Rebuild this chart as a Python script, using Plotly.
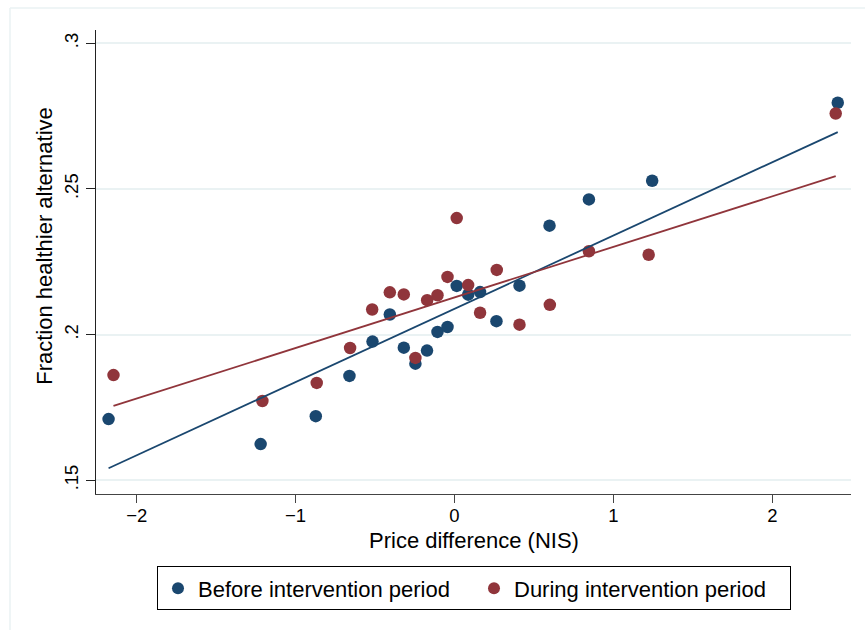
import numpy as np
import plotly.graph_objects as go

# ---- data ----
before_x = [-2.177, -1.220, -0.873, -0.661, -0.516, -0.407, -0.319, -0.246, -0.173, -0.107,
            -0.044, 0.014, 0.086, 0.161, 0.264, 0.409, 0.598, 0.846, 1.244, 2.412]
before_y = [0.1710, 0.1624, 0.1720, 0.1858, 0.1976, 0.2069, 0.1955, 0.1900, 0.1945, 0.2009,
            0.2026, 0.2167, 0.2137, 0.2146, 0.2046, 0.2168, 0.2374, 0.2464, 0.2528, 0.2796]
during_x = [-2.146, -1.209, -0.867, -0.657, -0.518, -0.407, -0.319, -0.246, -0.172, -0.107,
            -0.044, 0.014, 0.086, 0.161, 0.266, 0.409, 0.600, 0.846, 1.222, 2.399]
during_y = [0.1861, 0.1772, 0.1834, 0.1954, 0.2086, 0.2145, 0.2138, 0.1920, 0.2118, 0.2135,
            0.2198, 0.2400, 0.2170, 0.2075, 0.2222, 0.2034, 0.2102, 0.2286, 0.2274, 0.2759]
# linear fit lines as shown in the reference: [intercept, slope]
before_fit = [0.20885, 0.025147]
during_fit = [0.21275, 0.017360]
series_names = ["Before intervention period", "During intervention period"]
x_tickvals = [-2, -1, 0, 1, 2]
y_tickvals = [0.15, 0.20, 0.25, 0.30]
y_ticktext = [".15", ".2", ".25", ".3"]
x_title = "Price difference (NIS)"
y_title = "Fraction healthier alternative"

NAVY = "#1a476f"
MAROON = "#90353b"
GRID = "#eaf2f3"
FONT = "Liberation Sans, Arial, Helvetica, sans-serif"

W, H = 865, 630
L, R, T, B = 96, 14, 30, 135.5
PW, PH = W - L - R, H - T - B


def px2paper_x(px):
    return (px - L) / PW


def px2paper_y(py):
    return (H - B - py) / PH


fig = go.Figure()

for xs, ys, name, col in [(before_x, before_y, series_names[0], NAVY),
                          (during_x, during_y, series_names[1], MAROON)]:
    fig.add_trace(go.Scatter(x=xs, y=ys, mode="markers", name=name,
                             marker=dict(color=col, size=12.5, line=dict(width=0))))

for xs, fit, col in [(before_x, before_fit, NAVY), (during_x, during_fit, MAROON)]:
    a, b = fit
    lx = np.array([min(xs), max(xs)])
    fig.add_trace(go.Scatter(x=lx, y=a + b * lx, mode="lines", showlegend=False,
                             line=dict(color=col, width=1.8), hoverinfo="skip"))

fig.update_layout(
    width=W, height=H,
    margin=dict(l=L, r=R, t=T, b=B),
    paper_bgcolor="white", plot_bgcolor="white",
    font=dict(family=FONT, color="black"),
    showlegend=True,
    legend=dict(orientation="h", x=px2paper_x(157), y=px2paper_y(567),
                xanchor="left", yanchor="top",
                bordercolor="black", borderwidth=1, bgcolor="white",
                font=dict(size=22, family=FONT), entrywidth=271,
                itemsizing="constant"),
    xaxis=dict(range=[-2.2561, 2.4953], tickvals=x_tickvals,
               showgrid=False, zeroline=False,
               showline=True, linecolor="#444", linewidth=1.3,
               ticks="outside", ticklen=8, tickwidth=1.2, tickcolor="#444",
               ticklabelstandoff=-3,
               tickfont=dict(size=18.5, family=FONT)),
    yaxis=dict(range=[0.14527, 0.30456], tickvals=y_tickvals, ticktext=y_ticktext,
               showgrid=True, gridcolor=GRID, gridwidth=1.5, zeroline=False,
               showline=True, linecolor="#222", linewidth=1.3,
               ticks="outside", ticklen=9, tickwidth=1.2, tickcolor="#222",
               tickangle=-90, tickfont=dict(size=18.5, family=FONT)),
    annotations=[
        dict(text=x_title, xref="paper", yref="paper",
             x=px2paper_x(473.5), y=px2paper_y(541), xanchor="center", yanchor="middle",
             showarrow=False, font=dict(size=22, family=FONT)),
        dict(text=y_title, xref="paper", yref="paper", textangle=-90,
             x=px2paper_x(45), y=px2paper_y(246), xanchor="center", yanchor="middle",
             showarrow=False, font=dict(size=22, family=FONT)),
    ],
    shapes=[
        dict(type="line", xref="paper", yref="paper",
             x0=px2paper_x(10), x1=px2paper_x(10), y0=px2paper_y(8), y1=px2paper_y(640),
             line=dict(color=GRID, width=1.5)),
        dict(type="line", xref="paper", yref="paper",
             x0=px2paper_x(10), x1=px2paper_x(875), y0=px2paper_y(8), y1=px2paper_y(8),
             line=dict(color=GRID, width=1.5)),
    ],
)

fig.write_html("out.html")
